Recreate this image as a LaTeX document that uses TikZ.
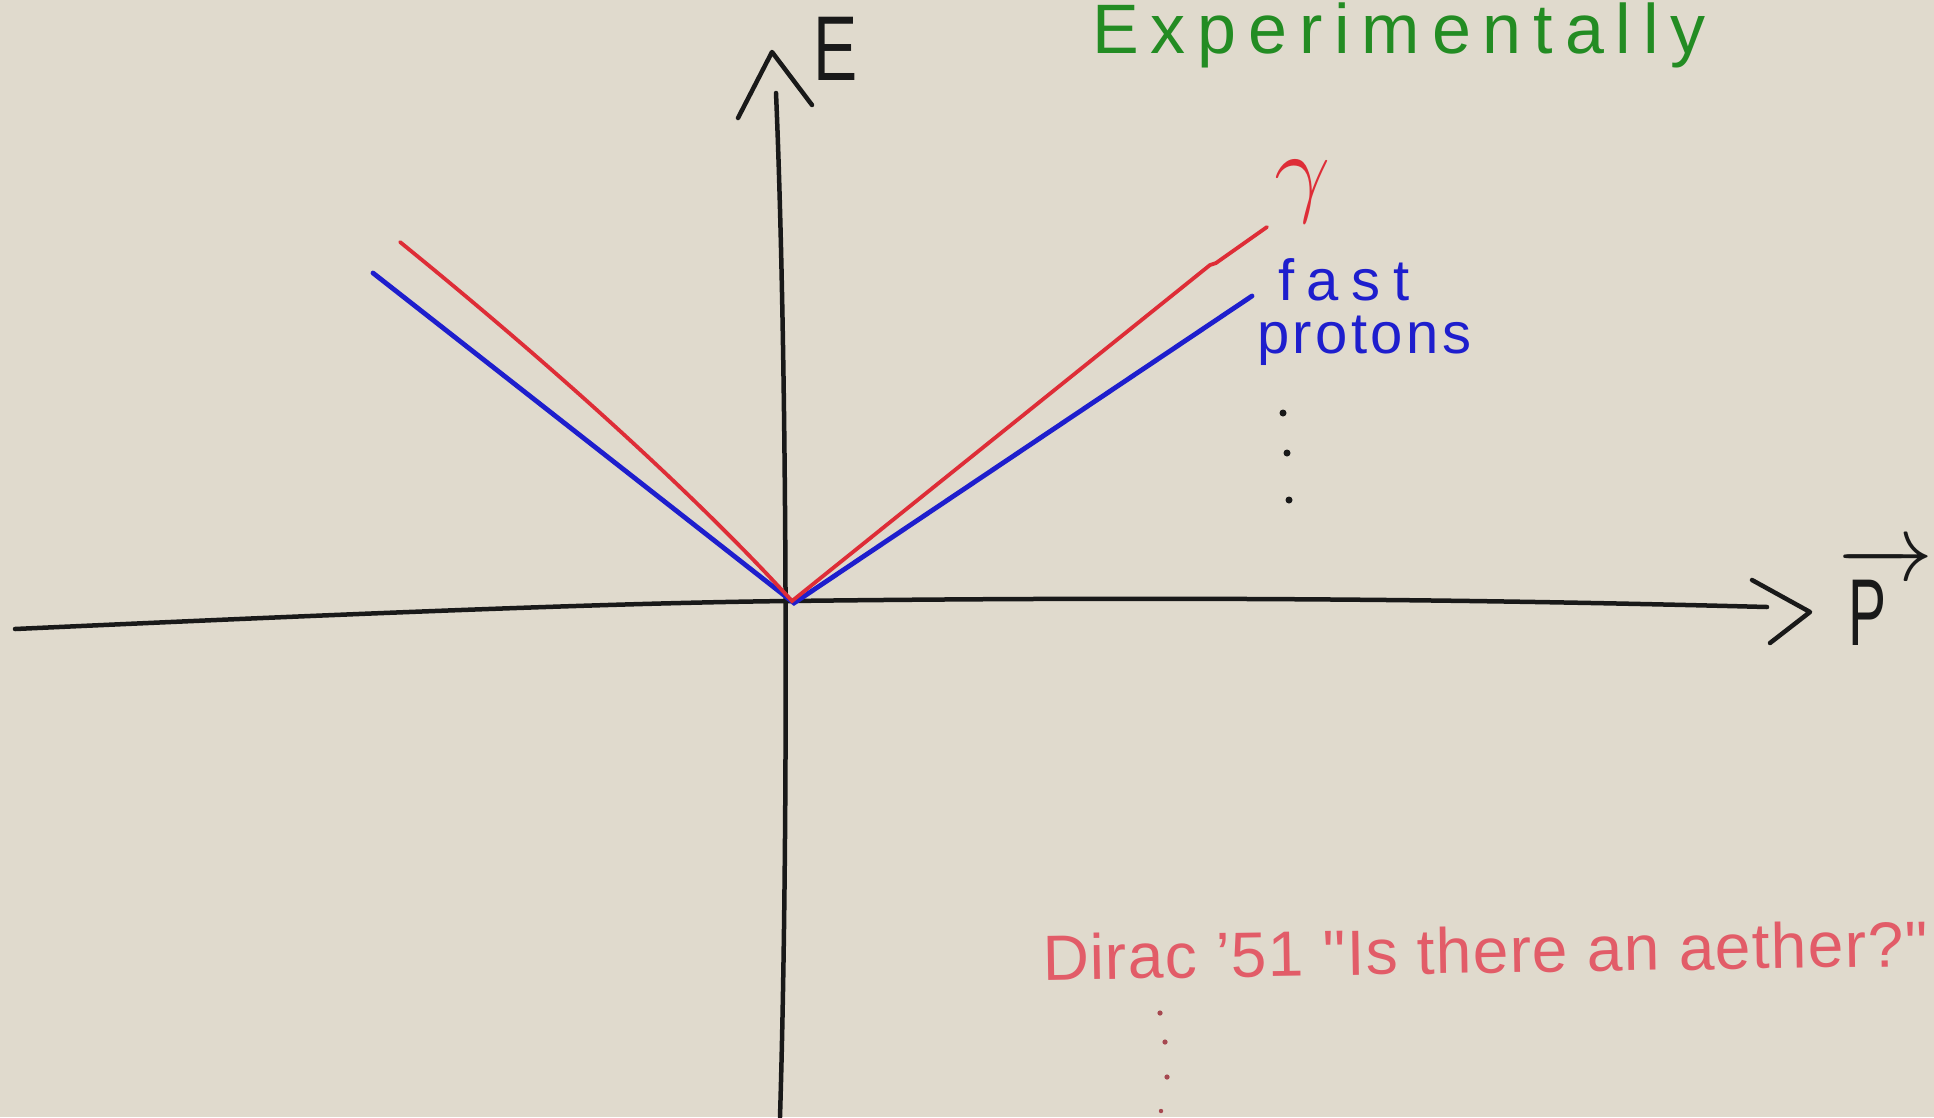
\RequirePackage{fix-cm}
\documentclass[tikz,border=0pt]{standalone}
\usepackage{fontspec}
\setmainfont{Liberation Sans}
\newfontfamily\diracfont[Ligatures=TeXOff]{Liberation Sans}
\definecolor{paper}{RGB}{224,218,205}
\definecolor{ink}{RGB}{25,25,25}
\definecolor{redink}{RGB}{222,45,55}
\definecolor{blueink}{RGB}{30,30,205}
\definecolor{greenink}{RGB}{35,140,35}
\definecolor{pinkink}{RGB}{226,92,104}
\tikzset{
  axisline/.style={draw=ink, line width=4.5pt, line cap=round, line join=round},
  redcurve/.style={draw=redink, line width=3.8pt, line cap=round},
  bluecurve/.style={draw=blueink, line width=4.8pt, line cap=round},
  lbl/.style={inner sep=0pt, outer sep=0pt, anchor=base west},
  dotmark/.style={fill=ink, draw=none},
}
\begin{document}
\begin{tikzpicture}[x=1pt, y=-1pt]
\fill[paper] (0,0) rectangle (1934,1117);
\useasboundingbox (0,0) rectangle (1934,1117);

% coordinates
\coordinate (O) at (789,601);
\coordinate (ytop) at (776,93);
\coordinate (ybot) at (780,1117);
\coordinate (xleft) at (15,629);
\coordinate (xright) at (1767,607);
\coordinate (rl) at (400,242);
\coordinate (rr) at (1267,227);
\coordinate (bl) at (373,273);
\coordinate (br) at (1252,296);
\coordinate (rO) at (792,601);
\coordinate (bO) at (794,603);

% axes
\draw[axisline] (ybot) .. controls (789,820) and (787,350) .. (ytop);
\draw[axisline] (738,118) -- (772,52) -- (812,105);
\draw[axisline] (xleft) .. controls (300,616) and (600,603) .. (O)
                .. controls (1200,596) and (1500,600) .. (xright);
\draw[axisline] (1752,580) -- (1810,612) -- (1770,643);

% dispersion lines
\draw[bluecurve] (bl) -- (bO) -- (br);
\draw[redcurve] (rl) .. controls (560,372) and (700,500) .. (rO)
                -- (1210,265) -- (1216,263) -- (rr);

% labels
\node[lbl, text=ink, font=\fontsize{92}{100}\selectfont] (Elabel) at (813,80) {\scalebox{0.72}[1]{E}};
\node[lbl, text=ink, font=\fontsize{95}{100}\selectfont] (Plabel) at (1838,645)
  {$\overrightarrow{\mbox{\scalebox{0.6}[1]{P}\hspace{36pt}}}$};
\node[inner sep=0pt, text=redink, font=\fontsize{100}{110}\selectfont] (gamma) at (1303,192) {$\gamma$};
\node[lbl, text=blueink, font={\fontsize{58}{64}\selectfont\addfontfeature{LetterSpace=22}}] (fast) at (1278,300) {fast};
\node[lbl, text=blueink, font={\fontsize{58}{64}\selectfont\addfontfeature{LetterSpace=6}}] (protons) at (1257,353) {protons};
\node[lbl, text=greenink, font={\fontsize{70}{76}\selectfont\addfontfeature{LetterSpace=17}}] (expt) at (1092,53) {Experimentally};
\node[lbl, text=pinkink, rotate=0.9, font={\diracfont\fontsize{64}{70}\selectfont\addfontfeature{LetterSpace=2}}] (dirac) at (1043,980) {Dirac ’51 "Is there an aether?"};

% dots
\fill[dotmark] (1283,413) circle (3.5);
\fill[dotmark] (1287,453) circle (3.5);
\fill[dotmark] (1289,500) circle (3.5);
\fill[pinkink!70!ink] (1160,1013) circle (2.6);
\fill[pinkink!70!ink] (1165,1042) circle (2.6);
\fill[pinkink!70!ink] (1167,1077) circle (2.6);
\fill[pinkink!70!ink] (1161,1111) circle (2.2);
\end{tikzpicture}
\end{document}
